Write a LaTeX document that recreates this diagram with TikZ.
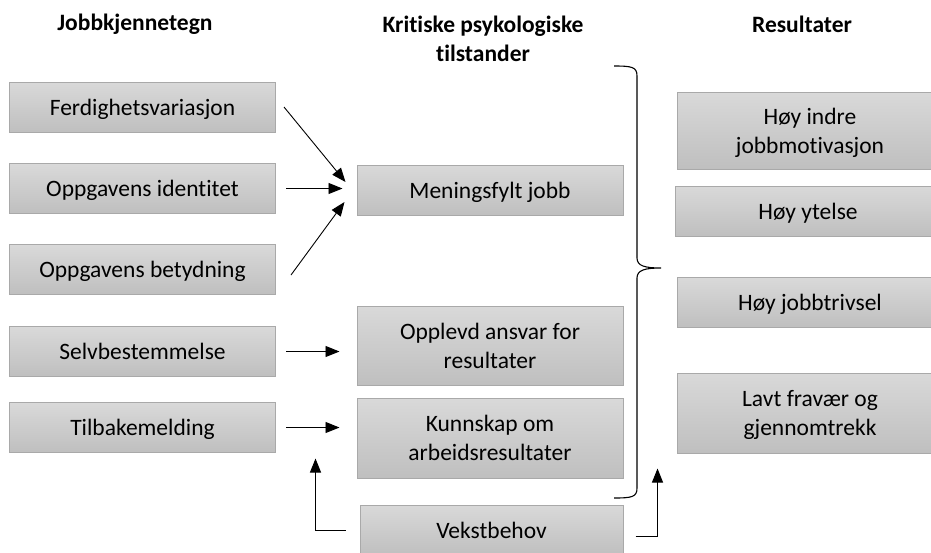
\documentclass[tikz,border=0pt]{standalone}
\usepackage{fontspec}
\setmainfont{Carlito}[Ligatures={NoCommon}]
\usepackage{tikz}
\usetikzlibrary{arrows.meta}
\definecolor{boxtop}{HTML}{D9D9D9}
\definecolor{boxbot}{HTML}{BFBFBF}
\definecolor{boxline}{HTML}{A9A9A9}
\newcommand{\boxfont}{\fontsize{23.5}{29}\selectfont}
\newcommand{\headfont}{\fontsize{23.5}{29}\selectfont\bfseries}

\begin{document}
\begin{tikzpicture}[x=1pt,y=-1pt,
  box/.style={draw=boxline,line width=1pt,top color=boxtop,bottom color=boxbot,
    minimum width=266pt,minimum height=50pt,inner sep=0pt,text depth=0pt,
    align=center,font=\boxfont},
  tall/.style={box,minimum height=79pt},
  head/.style={align=center,font=\headfont},
  arr/.style={-{Triangle[length=14pt,width=11pt]},black,line width=0.9pt}]
  \useasboundingbox (0,0) rectangle (931,552);
  \clip (0,0) rectangle (931,552);

  \node[head] (h1) at (135,24) {Jobbkjennetegn};
  \node[head] (h2) at (483,39) {Kritiske psykologiske\\tilstander};
  \node[head] (h3) at (802,24) {Resultater};

  \node[box] (ferd) at (142.5,107) {Ferdighetsvariasjon};
  \node[box] (ident) at (142.5,188.5) {Oppgavens identitet};
  \node[box] (betyd) at (142.5,269.5) {Oppgavens betydning};
  \node[box] (selv) at (142.5,351.5) {Selvbestemmelse};
  \node[box] (tilb) at (142.5,427.5) {Tilbakemelding};

  \node[box] (mening) at (490,190) {Meningsfylt jobb};
  \node[tall] (ansvar) at (490,345.5) {Opplevd ansvar for\\resultater};
  \node[tall,minimum height=80pt] (kunn) at (490,438) {Kunnskap om\\arbeidsresultater};
  \node[box,minimum width=263pt] (vekst) at (491.5,530) {Vekstbehov};

  \node[tall,minimum height=77pt] (motiv) at (810,130.5) {Høy indre\\jobbmotivasjon};
  \node[box] (ytelse) at (808,211) {Høy ytelse};
  \node[box] (trivsel) at (810,302.5) {Høy jobbtrivsel};
  \node[tall,minimum height=80pt] (fravaer) at (810,413) {Lavt fravær og\\gjennomtrekk};

  \path
  ([xshift=8pt]ferd.east) [arr] edge ([xshift=-11pt,yshift=8pt]mening.west)
  ([xshift=10pt]ident.east) [arr] edge ([xshift=-14pt]ident.east -| mening.west)
  ([xshift=15pt,yshift=-5.5pt]betyd.east) [arr] edge ([xshift=-12pt,yshift=-12pt]mening.west)
  ([xshift=10pt]selv.east) [arr] edge ([xshift=-17pt]selv.east -| ansvar.west)
  ([xshift=10pt]tilb.east) [arr] edge ([xshift=-17pt]tilb.east -| kunn.west);

  \draw[arr] ([xshift=-14pt]vekst.west) -| ([xshift=-41pt,yshift=20pt]kunn.south west);
  \draw[arr] ([xshift=12pt,yshift=-6pt]vekst.east) -| ([xshift=-19pt,yshift=-15pt]fravaer.south west);

  % klammeparentes
  \draw[line width=1.1pt] (614,66) .. controls (632,66) and (637,67) .. (637,76)
    -- (637,258) .. controls (637,266) and (645,268) .. (661,268)
    .. controls (645,268) and (637,270) .. (637,278)
    -- (637,488) .. controls (637,497) and (632,498) .. (614,498);
\end{tikzpicture}
\end{document}
